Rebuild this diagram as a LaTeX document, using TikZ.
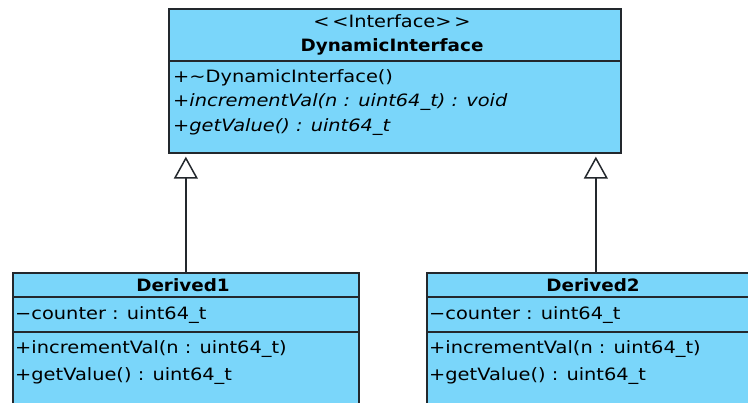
\documentclass[tikz,border=0pt]{standalone}
\usepackage{fontspec}
\setmainfont{DejaVu Sans}
\newfontfamily\regf{DejaVu Sans}[FakeStretch=1.14]
\newfontfamily\boldf{DejaVu Sans}[FakeStretch=1.08]
\usetikzlibrary{arrows.meta}
\definecolor{umlfill}{RGB}{122,214,250}
\definecolor{umlline}{RGB}{35,40,45}
\tikzset{
  classbox/.style={draw=umlline, fill=umlfill, line width=1.7pt, rectangle, inner sep=0pt, anchor=north west},
  divider/.style={draw=umlline, line width=1.7pt},
  member/.style={anchor=west, inner sep=0pt, font=\fontsize{17}{20}\selectfont\regf},
  title/.style={anchor=center, inner sep=0pt, font=\fontsize{17}{20}\selectfont\regf},
  btitle/.style={anchor=center, inner sep=0pt, font=\fontsize{17}{20}\selectfont\boldf\bfseries},
  inherit/.style={draw=umlline, line width=1.6pt, -{Triangle[open, width=24pt, length=22pt, line width=1.5pt]}, shorten >=3pt},
}
\begin{document}
\begin{tikzpicture}[x=1pt, y=-1pt]
\useasboundingbox (0,0) rectangle (748,403);
\clip (0,0) rectangle (748,403);
% Interface
\node[classbox, minimum width=452pt, minimum height=144pt] (di) at (168,8) {};
\draw[divider] (168,61) -- (620,61);
\node[title] (st) at (392,21) {\textless\,\textless Interface\textgreater\,\textgreater};
\node[btitle] (dn) at (392,47) {DynamicInterface};
\node[member] (m1) at (173,78) {+\textasciitilde DynamicInterface()};
\node[member] (m2) at (173,102) {\itshape +incrementVal(n : uint64\_t) : void};
\node[member] (m3) at (173,127) {\itshape +getValue() : uint64\_t};
% Derived1
\node[classbox, minimum width=346pt, minimum height=160pt] (d1) at (12,272) {};
\draw[divider] (12,297) -- (358,297);
\draw[divider] (12,332) -- (358,332);
\node[btitle] (d1n) at (183,285) {Derived1};
\node[member] (a1) at (15,315) {−counter : uint64\_t};
\node[member] (b1) at (15,349) {+incrementVal(n : uint64\_t)};
\node[member] (c1) at (15,376) {+getValue() : uint64\_t};
% Derived2
\node[classbox, minimum width=338pt, minimum height=160pt] (d2) at (426,272) {};
\draw[divider] (426,297) -- (764,297);
\draw[divider] (426,332) -- (764,332);
\node[btitle] (d2n) at (593,285) {Derived2};
\node[member] (a2) at (429,315) {−counter : uint64\_t};
\node[member] (b2) at (429,349) {+incrementVal(n : uint64\_t)};
\node[member] (c2) at (429,376) {+getValue() : uint64\_t};
% Inheritance
\draw[inherit] (d1.north) -- (d1.north |- di.south);
\draw[inherit] (d2.north) -- (d2.north |- di.south);
\end{tikzpicture}
\end{document}
